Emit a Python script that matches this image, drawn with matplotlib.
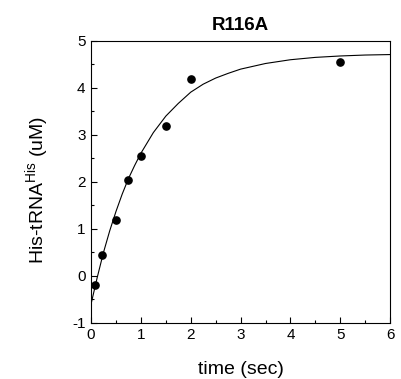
import matplotlib
matplotlib.use("Agg")
import matplotlib.pyplot as plt
from matplotlib.ticker import MultipleLocator

plt.rcParams['font.family'] = ['Liberation Sans', 'DejaVu Sans']
plt.rcParams['mathtext.fontset'] = 'custom'
plt.rcParams['mathtext.rm'] = 'Liberation Sans'
plt.rcParams['axes.unicode_minus'] = False

# measured points
time_pts = [0.083, 0.23, 0.5, 0.75, 1.0, 1.5, 2.0, 5.0]
conc_pts = [-0.19, 0.45, 1.2, 2.05, 2.55, 3.2, 4.2, 4.55]

# fitted curve
time_fit = [0, 0.125, 0.25, 0.375, 0.5, 0.625, 0.75, 0.875, 1.0, 1.25, 1.5, 1.75, 2.0,
            2.25, 2.5, 2.75, 3.0, 3.5, 4.0, 4.5, 5.0, 5.5, 6.0]
conc_fit = [-0.60, -0.03, 0.50, 0.96, 1.37, 1.74, 2.07, 2.35, 2.61, 3.05, 3.40, 3.67, 3.91,
            4.08, 4.21, 4.31, 4.40, 4.52, 4.60, 4.65, 4.68, 4.70, 4.71]

fig = plt.figure(figsize=(4.01, 3.79), dpi=100)
ax = fig.add_axes([0.227, 0.148, 0.746, 0.744])

ax.plot(time_fit, conc_fit, color='black', lw=0.8)
ax.plot(time_pts, conc_pts, 'o', color='black', ms=5.2)

ax.set_xlim(0, 6)
ax.set_ylim(-1, 5)
ax.xaxis.set_major_locator(MultipleLocator(1))
ax.xaxis.set_minor_locator(MultipleLocator(0.5))
ax.yaxis.set_major_locator(MultipleLocator(1))
ax.yaxis.set_minor_locator(MultipleLocator(0.5))
ax.tick_params(which='both', direction='in', top=False, right=False, labelsize=11, width=0.8)
ax.tick_params(which='major', length=4, pad=4)
ax.tick_params(which='minor', length=2.5)
for s in ax.spines.values():
    s.set_linewidth(0.8)

ax.set_title('R116A', fontsize=13.5, fontweight='bold', pad=8)
ax.set_xlabel('time (sec)', fontsize=14, labelpad=13)
ax.set_ylabel(r'His-tRNA$^{\mathrm{His}}$ (uM)', fontsize=14)
ax.yaxis.set_label_coords(-0.13, 0.47)

fig.savefig('out.png', dpi=100)
